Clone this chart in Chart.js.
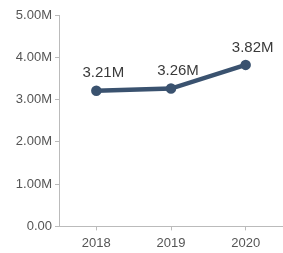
<!DOCTYPE html>
<html>
<head>
<meta charset="utf-8">
<script src="https://cdn.jsdelivr.net/npm/chart.js@4"></script>
<style>
  html, body { margin: 0; padding: 0; background: #fff; }
  #wrap { width: 283px; height: 253px; }
</style>
</head>
<body>
<div id="wrap"><canvas id="chart"></canvas></div>
<script>
const years = ['2018', '2019', '2020'];
const values = [3.21, 3.26, 3.82];
const yTicks = ['0.00', '1.00M', '2.00M', '3.00M', '4.00M', '5.00M'];

// value labels above each point
const pointLabels = {
    id: 'pointLabels',
    afterDatasetsDraw(chart) {
        const ctx = chart.ctx;
        const meta = chart.getDatasetMeta(0);
        ctx.save();
        ctx.font = '15px "Liberation Sans", Arial, sans-serif';
        ctx.fillStyle = '#3a3a3a';
        ctx.textAlign = 'center';
        ctx.textBaseline = 'bottom';
        meta.data.forEach((pt, i) => {
            ctx.fillText(values[i].toFixed(2) + 'M', pt.x + 7, pt.y - 10);
        });
        ctx.restore();
    }
};

new Chart(document.getElementById('chart'), {
    type: 'line',
    data: {
        labels: years,
        datasets: [{
            data: values,
            borderColor: '#3a526f',
            backgroundColor: '#3a526f',
            borderWidth: 4.5,
            pointRadius: 3,
            tension: 0,
            clip: false
        }]
    },
    options: {
        responsive: true,
        maintainAspectRatio: false,
        animation: false,
        layout: { autoPadding: false, padding: { top: 15, right: -1, bottom: -3, left: 0 } },
        plugins: { legend: { display: false }, tooltip: { enabled: false } },
        scales: {
            x: {
                offset: true,
                grid: { drawOnChartArea: false, color: '#bbb', tickLength: 4 },
                border: { color: '#bbb' },
                ticks: { color: '#555', font: { size: 13, family: '"Liberation Sans", Arial, sans-serif' }, padding: 5 }
            },
            y: {
                min: 0,
                max: 5,
                afterFit(scale) { scale.width = 59; },
                grid: { drawOnChartArea: false, color: '#bbb', tickLength: 4 },
                border: { color: '#bbb' },
                ticks: {
                    stepSize: 1,
                    color: '#555',
                    padding: 3,
                    font: { size: 13, family: '"Liberation Sans", Arial, sans-serif' },
                    callback: (v, i) => yTicks[i]
                }
            }
        }
    },
    plugins: [pointLabels]
});
</script>
</body>
</html>
